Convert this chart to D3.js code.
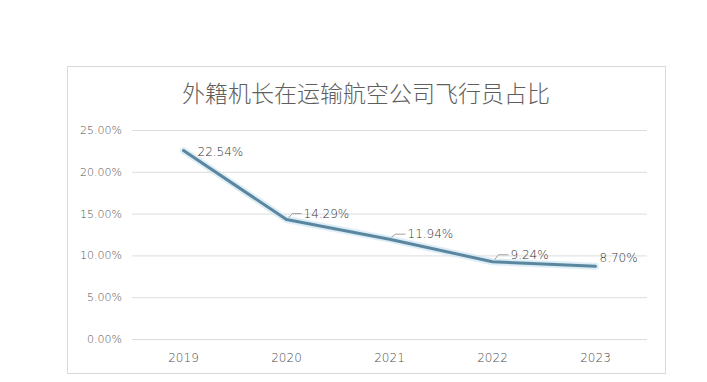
<!DOCTYPE html>
<html><head><meta charset="utf-8">
<script src="https://cdn.jsdelivr.net/npm/d3@7/dist/d3.min.js"></script>
<style>
html,body{margin:0;padding:0;background:#fff;}
svg{display:block;}
text{font-family:"Noto Sans CJK SC","Noto Sans",sans-serif;}
.num{font-family:"DejaVu Sans ExtraLight","DejaVu Sans",sans-serif;}
</style></head>
<body>
<svg id="chart" width="707" height="382"></svg>
<script>
const title = "外籍机长在运输航空公司飞行员占比";
const years = ["2019","2020","2021","2022","2023"];
const values = [22.54, 14.29, 11.94, 9.24, 8.70];
const yTicks = [0, 5, 10, 15, 20, 25];

// label placement (layout, not data): dx, dy relative to point, with leader flag
const labelLayout = [
  {dx: 14, dy: 1, leader: false},
  {dx: 17, dy: -6, leader: true},
  {dx: 18, dy: -5, leader: true},
  {dx: 18, dy: -7, leader: true},
  {dx: 4, dy: -8, leader: false}
];

const svg = d3.select("#chart");
const box = {x: 67, y: 66, w: 598, h: 307};
svg.append("rect").attr("x", box.x + 0.5).attr("y", box.y + 0.5)
  .attr("width", box.w).attr("height", box.h)
  .attr("fill", "#fff").attr("stroke", "#d9d9d9").attr("stroke-width", 1);

svg.append("text").attr("x", box.x + box.w / 2).attr("y", 92)
  .attr("text-anchor", "middle").attr("dominant-baseline", "central")
  .attr("font-size", 23).attr("font-weight", 300).attr("fill", "#5e5e5e")
  .text(title);

const plot = {left: 132, right: 647, top: 130, bottom: 339};
const x = d3.scaleBand().domain(years).range([plot.left, plot.right]);
const y = d3.scaleLinear().domain([0, 25]).range([plot.bottom, plot.top]);

const yAxis = d3.axisLeft(y).tickValues(yTicks)
  .tickFormat(d => d3.format(".2f")(d) + "%")
  .tickSize(-(plot.right - plot.left)).tickPadding(10);
const gy = svg.append("g").attr("transform", `translate(${plot.left},0)`).call(yAxis);
gy.select(".domain").remove();
gy.selectAll(".tick line").attr("stroke", "#dcdcdc").attr("stroke-width", 1);
gy.selectAll(".tick text").attr("class", "num").attr("fill", "#4f4f4f").attr("font-size", 11)
  .attr("font-weight", 200);

const xAxis = d3.axisBottom(x).tickSize(0).tickPadding(14);
const gx = svg.append("g").attr("transform", `translate(0,${plot.bottom})`).call(xAxis);
gx.select(".domain").remove();
gx.selectAll(".tick text").attr("class", "num").attr("fill", "#4f4f4f").attr("font-size", 12)
  .attr("font-weight", 200);

const pts = years.map((yr, i) => ({yr, v: values[i], i}));
const line = d3.line().x(d => x(d.yr) + x.bandwidth() / 2).y(d => y(d.v));

// soft glow
svg.append("path").datum(pts).attr("d", line).attr("fill", "none")
  .attr("stroke", "#cfe6f2").attr("stroke-width", 7).attr("stroke-linejoin", "round")
  .attr("stroke-linecap", "round").attr("opacity", 0.7);
svg.append("path").datum(pts).attr("d", line).attr("fill", "none")
  .attr("stroke", "#5a879f").attr("stroke-width", 3).attr("stroke-linejoin", "round")
  .attr("stroke-linecap", "round");

const lbl = svg.append("g");
pts.forEach(d => {
  const px = x(d.yr) + x.bandwidth() / 2, py = y(d.v);
  const L = labelLayout[d.i];
  const tx = px + L.dx, ty = py + L.dy;
  if (L.leader) {
    lbl.append("path")
      .attr("d", `M${px + 2},${py - 2} L${px + 6},${ty} L${tx - 2},${ty}`)
      .attr("fill", "none").attr("stroke", "#8c8c8c").attr("stroke-width", 0.8);
  }
  lbl.append("text").attr("class", "num").attr("x", tx).attr("y", ty)
    .attr("dominant-baseline", "central")
    .attr("font-size", 12).attr("font-weight", 200).attr("fill", "#333")
    .text(d3.format(".2f")(d.v) + "%");
});
</script>
</body></html>
